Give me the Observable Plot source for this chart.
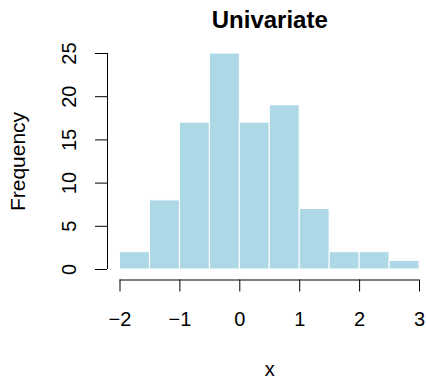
<!DOCTYPE html>
<html>
<head>
<meta charset="utf-8">
<script src="https://cdn.jsdelivr.net/npm/d3@7"></script>
<script src="https://cdn.jsdelivr.net/npm/@observablehq/plot@0.6"></script>
<style>
  html, body { margin: 0; padding: 0; background: white; }
</style>
</head>
<body>
<div id="chart"></div>
<script>
const binStart = [-2, -1.5, -1, -0.5, 0, 0.5, 1, 1.5, 2, 2.5];
const binEnd   = [-1.5, -1, -0.5, 0, 0.5, 1, 1.5, 2, 2.5, 3];
const counts   = [2, 8, 17, 25, 17, 19, 7, 2, 2, 1];
const xTicks = [-2, -1, 0, 1, 2, 3];
const xTickLabels = ["−2", "−1", "0", "1", "2", "3"];
const yTicks = [0, 5, 10, 15, 20, 25];
const yTickLabels = ["0", "5", "10", "15", "20", "25"];
const title = "Univariate";
const xLabel = "x";
const yLabel = "Frequency";

const bins = counts.map((c, i) => ({x1: binStart[i], x2: binEnd[i], y: c}));
const font = "Liberation Sans, Arial, Helvetica, sans-serif";
const fs = 20;

const chart = Plot.plot({
  width: 426,
  height: 379,
  marginLeft: 119.5,
  marginRight: 7,
  marginTop: 53,
  marginBottom: 110,
  style: {fontFamily: font, background: "white", overflow: "visible"},
  x: {domain: [-2, 3], axis: null},
  y: {domain: [0, 25], axis: null},
  marks: [
    Plot.rectY(bins, {x1: "x1", x2: "x2", y: "y", fill: "#ADD8E6", stroke: "white", strokeWidth: 1, inset: 0}),
    // y axis
    Plot.ruleX([xTicks[0]], {y1: yTicks[0], y2: yTicks[yTicks.length - 1], dx: -12.5, stroke: "black", strokeWidth: 1}),
    Plot.axisY(yTicks, {tickSize: 12, dx: -12.5, tickFormat: () => "", stroke: "black", strokeWidth: 1, label: null}),
    Plot.text(yTicks, {y: d => d, text: (d, i) => yTickLabels[i], frameAnchor: "left", dx: -50, rotate: -90, fontSize: fs, fill: "black", lineAnchor: "middle", textAnchor: "middle"}),
    // x axis
    Plot.ruleY([yTicks[0]], {x1: xTicks[0], x2: xTicks[xTicks.length - 1], dy: 10.5, stroke: "black", strokeWidth: 1}),
    Plot.axisX(xTicks, {tickSize: 12, dy: 10.5, tickFormat: () => "", stroke: "black", strokeWidth: 1, label: null}),
    Plot.text(xTicks, {x: d => d, text: (d, i) => xTickLabels[i], frameAnchor: "bottom", dy: 50, fontSize: fs, fill: "black", lineAnchor: "middle"}),
    // labels
    Plot.text([title], {frameAnchor: "top", dy: -33, fontSize: 24, fontWeight: "bold", fill: "black", lineAnchor: "middle"}),
    Plot.text([yLabel], {frameAnchor: "left", dx: -101.5, rotate: -90, fontSize: 21, fill: "black", lineAnchor: "middle", textAnchor: "middle"}),
    Plot.text([xLabel], {frameAnchor: "bottom", dy: 100, fontSize: fs, fill: "black", lineAnchor: "middle"})
  ]
});
document.getElementById("chart").appendChild(chart);
</script>
</body>
</html>
